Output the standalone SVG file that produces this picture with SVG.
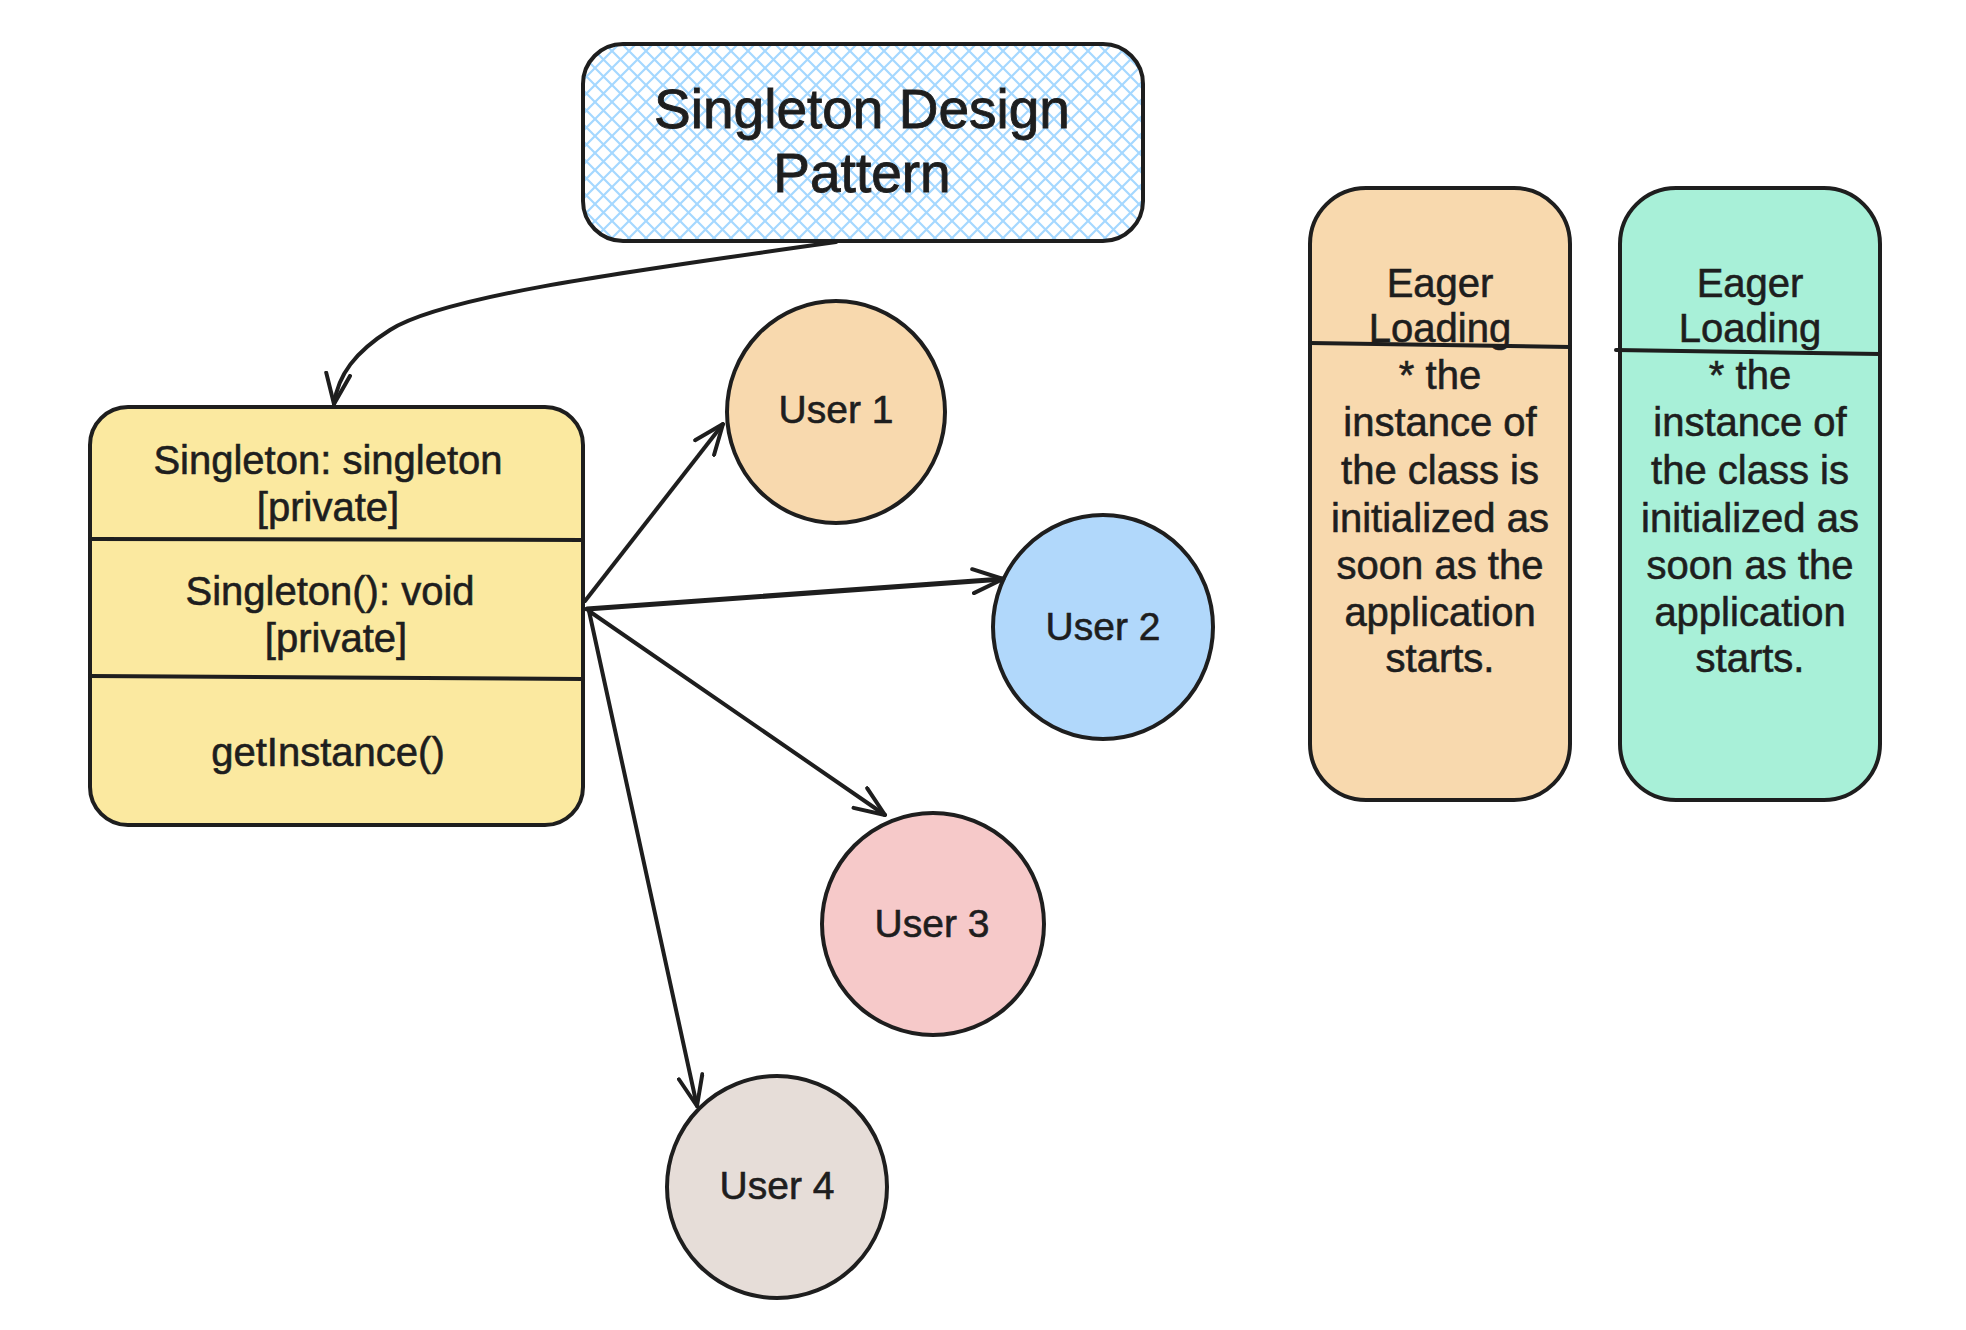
<svg xmlns="http://www.w3.org/2000/svg" width="1966" height="1330" viewBox="0 0 1966 1330">
<defs>
<pattern id="hatch" patternUnits="userSpaceOnUse" width="17" height="17">
<path d="M-2,2 L2,-2 M0,17 L17,0 M15,19 L19,15 M-2,15 L2,19 M0,0 L17,17 M15,-2 L19,2" stroke="#a5d8ff" stroke-width="2.2" fill="none"/>
</pattern>
<marker id="arr" markerUnits="userSpaceOnUse" viewBox="0 0 34 28" markerWidth="34" markerHeight="28" refX="32" refY="14" orient="auto">
<path d="M2,2 L32,14 L2,26" fill="none" stroke="#1e1e1e" stroke-width="4" stroke-linecap="round" stroke-linejoin="round"/>
</marker>
</defs>
<style>
.o{stroke:#1e1e1e;stroke-width:4;stroke-linecap:round;stroke-linejoin:round}
.t{font-family:"Liberation Sans",Arial,sans-serif;font-size:40px;fill:#1e1e1e;text-anchor:middle;stroke:#1e1e1e;stroke-width:0.6}
.h{font-size:55px;stroke-width:0.9}
.u{font-size:39px}
.c{fill:none;stroke:#1e1e1e;stroke-width:4;stroke-linecap:round}
</style>
<rect width="1966" height="1330" fill="#ffffff"/>

<g id="title">
<rect x="583" y="44" width="560" height="197" rx="40" fill="#ffffff"/>
<rect x="583" y="44" width="560" height="197" rx="40" fill="url(#hatch)" class="o"/>
<text class="t h" x="862" y="128">Singleton Design</text>
<text class="t h" x="862" y="192">Pattern</text>
</g>

<g id="singleton">
<rect x="90" y="407" width="493" height="418" rx="38" fill="#fbe9a0" class="o"/>
<path d="M90,539 L583,540 M90,676 L583,679" class="o" fill="none"/>
<text class="t" x="328" y="474">Singleton: singleton</text>
<text class="t" x="328" y="521">[private]</text>
<text class="t" x="330" y="605">Singleton(): void</text>
<text class="t" x="336" y="652">[private]</text>
<text class="t" x="328" y="766">getInstance()</text>
</g>

<g id="user1">
<ellipse cx="836" cy="412" rx="109" ry="111" fill="#f8d9ae" class="o"/>
<text class="t u" x="836" y="423">User 1</text>
</g>
<g id="user2">
<ellipse cx="1103" cy="627" rx="110" ry="112" fill="#b1d8fb" class="o"/>
<text class="t u" x="1103" y="640">User 2</text>
</g>
<g id="user3">
<ellipse cx="933" cy="924" rx="111" ry="111" fill="#f6c9c9" class="o"/>
<text class="t u" x="932" y="937">User 3</text>
</g>
<g id="user4">
<ellipse cx="777" cy="1187" rx="110" ry="111" fill="#e6ddd8" class="o"/>
<text class="t u" x="777" y="1199">User 4</text>
</g>

<g id="eager1">
<rect x="1310" y="188" width="260" height="612" rx="56" fill="#f8d9ae" class="o"/>
<path d="M1310,343 L1570,347" class="o" fill="none"/>
<text class="t" x="1440" y="297">Eager</text>
<text class="t" x="1440" y="342">Loading</text>
<text class="t" x="1440" y="389">* the</text>
<text class="t" x="1440" y="436">instance of</text>
<text class="t" x="1440" y="484">the class is</text>
<text class="t" x="1440" y="532">initialized as</text>
<text class="t" x="1440" y="579">soon as the</text>
<text class="t" x="1440" y="626">application</text>
<text class="t" x="1440" y="672">starts.</text>
</g>

<g id="eager2">
<rect x="1620" y="188" width="260" height="612" rx="56" fill="#a8f0d8" class="o"/>
<path d="M1616,350 L1880,354" class="o" fill="none"/>
<text class="t" x="1750" y="297">Eager</text>
<text class="t" x="1750" y="342">Loading</text>
<text class="t" x="1750" y="389">* the</text>
<text class="t" x="1750" y="436">instance of</text>
<text class="t" x="1750" y="484">the class is</text>
<text class="t" x="1750" y="532">initialized as</text>
<text class="t" x="1750" y="579">soon as the</text>
<text class="t" x="1750" y="626">application</text>
<text class="t" x="1750" y="672">starts.</text>
</g>

<g id="connectors">
<path class="c" d="M836,242 C600,275 440,298 390,330 C355,352 338,375 334,404" marker-end="url(#arr)"/>
<path class="c" d="M585,601 L723,424" marker-end="url(#arr)"/>
<path class="c" d="M587,609 L1003,579" marker-end="url(#arr)" style="stroke-width:5"/>
<path class="c" d="M589,611 L885,815" marker-end="url(#arr)"/>
<path class="c" d="M589,611 L697,1106" marker-end="url(#arr)"/>
</g>
</svg>
